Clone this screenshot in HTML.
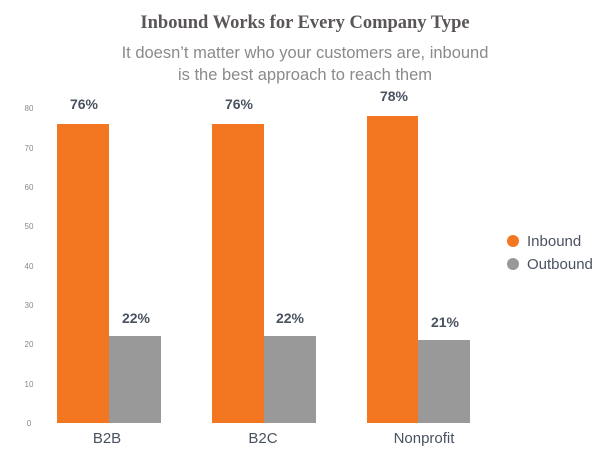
<!DOCTYPE html>
<html><head><style>
body{margin:0;width:609px;height:452px;background:#fff;overflow:hidden}
</style></head><body>
<svg width="609" height="452" xmlns="http://www.w3.org/2000/svg">
<text x="305" y="28" text-anchor="middle" font-family="Liberation Serif,serif" font-weight="bold" font-size="18.5" fill="#5a5557">Inbound Works for Every Company Type</text>
<g font-family="Liberation Sans,sans-serif" font-size="16.5" fill="#8a8a8a" text-anchor="middle">
<text x="305" y="58">It doesn’t matter who your customers are, inbound</text>
<text x="305" y="80">is the best approach to reach them</text>
</g>
<g font-family="Liberation Sans,sans-serif" font-size="8" fill="#888" text-anchor="middle">
<text x="29" y="111">80</text><text x="29" y="151">70</text><text x="29" y="190">60</text><text x="29" y="229">50</text>
<text x="29" y="269">40</text><text x="29" y="308">30</text><text x="29" y="347">20</text><text x="29" y="387">10</text><text x="29" y="426">0</text>
</g>
<g fill="#f37721">
<rect x="57" y="124" width="52" height="299"/>
<rect x="212" y="124" width="52" height="299"/>
<rect x="367" y="116" width="51" height="307"/>
</g>
<g fill="#999">
<rect x="109" y="336" width="52" height="87"/>
<rect x="264" y="336" width="52" height="87"/>
<rect x="418" y="340" width="52" height="83"/>
</g>
<g font-family="Liberation Sans,sans-serif" font-weight="bold" font-size="14" fill="#4a5260" text-anchor="middle">
<text x="84" y="109">76%</text><text x="239" y="109">76%</text><text x="394" y="101">78%</text>
<text x="136" y="323">22%</text><text x="290" y="323">22%</text><text x="445" y="327">21%</text>
</g>
<g font-family="Liberation Sans,sans-serif" font-size="15" fill="#4a5260" text-anchor="middle">
<text x="107" y="443">B2B</text><text x="263" y="443">B2C</text><text x="424" y="443">Nonprofit</text>
</g>
<circle cx="513" cy="241" r="6" fill="#f37721"/>
<circle cx="513" cy="264" r="6" fill="#999"/>
<g font-family="Liberation Sans,sans-serif" font-size="15" fill="#4a5260">
<text x="527" y="246">Inbound</text><text x="527" y="269">Outbound</text>
</g>
</svg>
</body></html>
